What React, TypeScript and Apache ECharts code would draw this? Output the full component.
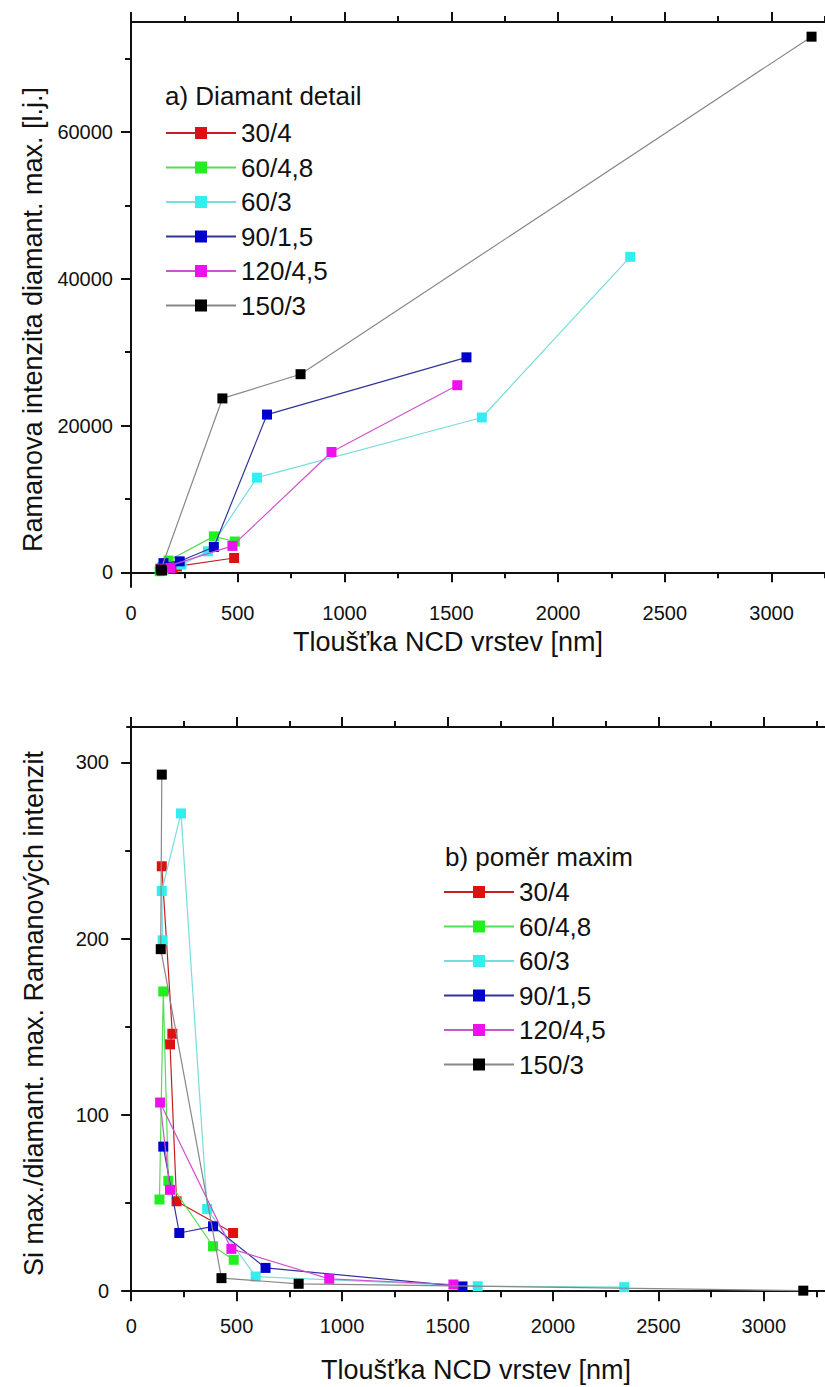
import React, { useEffect, useRef } from "react";
import * as echarts from "echarts";

// ---- Data: chart a) Diamant detail (thickness [nm] vs Raman intensity) ----
const seriesNames = ["30/4", "60/4,8", "60/3", "90/1,5", "120/4,5", "150/3"];

const xA_30_4 = [145, 195, 184, 215, 483];
const yA_30_4 = [300, 600, 500, 800, 1950];
const xA_60_48 = [134, 152, 176, 388, 486];
const yA_60_48 = [150, 350, 1600, 4900, 4200];
const xA_60_3 = [149, 145, 236, 360, 590, 1643, 2338];
const yA_60_3 = [500, 700, 1050, 2860, 12900, 21100, 43000];
const xA_90_15 = [152, 228, 388, 637, 1571];
const yA_90_15 = [1250, 1500, 3450, 21500, 29300];
const xA_120_45 = [184, 137, 475, 939, 1528];
const yA_120_45 = [600, 500, 3600, 16400, 25500];
const xA_150_3 = [145, 140, 428, 794, 3187];
const yA_150_3 = [250, 380, 23700, 27000, 73000];

// ---- Data: chart b) poměr maxim (Si max / diamond max ratio) ----
const xB_30_4 = [145, 195, 184, 215, 483];
const yB_30_4 = [241, 146, 140, 51, 33];
const xB_60_48 = [134, 152, 176, 388, 486];
const yB_60_48 = [52, 170, 62.6, 25.5, 17.8];
const xB_60_3 = [149, 145, 236, 360, 590, 1643, 2338];
const yB_60_3 = [199, 227, 271, 46.6, 8.3, 2.8, 2.3];
const xB_90_15 = [152, 228, 388, 637, 1571];
const yB_90_15 = [82, 33, 36.8, 13.2, 2.7];
const xB_120_45 = [184, 137, 475, 939, 1528];
const yB_120_45 = [57.5, 107, 24, 7, 3.8];
const xB_150_3 = [145, 140, 428, 794, 3187];
const yB_150_3 = [293, 194, 7.4, 4.2, 0.3];

// ---- Tick values ----
const xMajorTicks = [0, 500, 1000, 1500, 2000, 2500, 3000];
const xMinorTicks = [250, 750, 1250, 1750, 2250, 2750, 3250];
const yAMajorTicks = [0, 20000, 40000, 60000];
const yAMinorTicks = [10000, 30000, 50000, 70000];
const yBMajorTicks = [0, 100, 200, 300];
const yBMinorTicks = [50, 150, 250];

const markerColors = ["#dd1111", "#22ee22", "#33eeee", "#0000cc", "#ee11ee", "#000000"];
const lineColors = ["#c42020", "#55dd55", "#77dddd", "#333399", "#cc55cc", "#888888"];

const FONT = "'Liberation Sans', Arial, sans-serif";
const AXIS_COLOR = "#111";

const xsA = [xA_30_4, xA_60_48, xA_60_3, xA_90_15, xA_120_45, xA_150_3];
const ysA = [yA_30_4, yA_60_48, yA_60_3, yA_90_15, yA_120_45, yA_150_3];
const xsB = [xB_30_4, xB_60_48, xB_60_3, xB_90_15, xB_120_45, xB_150_3];
const ysB = [yB_30_4, yB_60_48, yB_60_3, yB_90_15, yB_120_45, yB_150_3];

function zip(xs: number[], ys: number[]) {
  return xs.map((x, i) => [x, ys[i]]);
}

function xAxisPair(gridIndex: number, min: number, max: number, name: string, nameGap: number, namePad: number[]) {
  const base = { type: "value", gridIndex, min, max, splitLine: { show: false } };
  return [
    {
      ...base,
      position: "bottom",
      name,
      nameLocation: "middle",
      nameGap,
      nameTextStyle: { fontSize: 27, color: "#111", fontFamily: FONT, padding: namePad },
      axisLine: { show: true, lineStyle: { color: AXIS_COLOR, width: 2 } },
      axisTick: { show: true, inside: false, length: 10, customValues: xMajorTicks, lineStyle: { color: AXIS_COLOR, width: 2 } },
      axisLabel: { show: true, customValues: xMajorTicks, margin: 16, fontSize: 20, color: "#111", fontFamily: FONT, formatter: (v: number) => String(v) },
    },
    {
      ...base,
      position: "bottom",
      axisLine: { show: false },
      axisTick: { show: true, inside: false, length: 6, customValues: xMinorTicks, lineStyle: { color: AXIS_COLOR, width: 2 } },
      axisLabel: { show: false },
    },
    {
      ...base,
      position: "top",
      axisLine: { show: true, lineStyle: { color: AXIS_COLOR, width: 2 } },
      axisTick: { show: true, inside: false, length: 10, customValues: xMajorTicks, lineStyle: { color: AXIS_COLOR, width: 2 } },
      axisLabel: { show: false },
    },
    {
      ...base,
      position: "top",
      axisLine: { show: false },
      axisTick: { show: true, inside: false, length: 6, customValues: xMinorTicks, lineStyle: { color: AXIS_COLOR, width: 2 } },
      axisLabel: { show: false },
    },
  ];
}

function yAxisPair(gridIndex: number, min: number, max: number, major: number[], minor: number[], name: string, namePad: number[]) {
  const base = { type: "value", gridIndex, min, max, position: "left", splitLine: { show: false } };
  return [
    {
      ...base,
      name,
      nameLocation: "middle",
      nameRotate: 90,
      nameGap: 80,
      nameTextStyle: { fontSize: 27, color: "#111", fontFamily: FONT, padding: namePad },
      axisLine: { show: true, lineStyle: { color: AXIS_COLOR, width: 2 } },
      axisTick: { show: true, inside: false, length: 10, customValues: major, lineStyle: { color: AXIS_COLOR, width: 2 } },
      axisLabel: { show: true, customValues: major, margin: 18, fontSize: 20, color: "#111", fontFamily: FONT, formatter: (v: number) => String(v) },
    },
    {
      ...base,
      axisLine: { show: false },
      axisTick: { show: true, inside: false, length: 6, customValues: minor, lineStyle: { color: AXIS_COLOR, width: 2 } },
      axisLabel: { show: false },
    },
  ];
}

function makeSeries(xs: number[][], ys: number[][], xAxisIndex: number, yAxisIndex: number) {
  return seriesNames.map((name, i) => ({
    type: "line",
    name,
    xAxisIndex,
    yAxisIndex,
    data: zip(xs[i], ys[i]),
    symbol: "rect",
    symbolSize: 10,
    showAllSymbol: true,
    lineStyle: { color: lineColors[i], width: 1.2 },
    itemStyle: { color: markerColors[i] },
    emphasis: { disabled: true },
    z: 2 + i,
  }));
}

function legendCfg(left: number, top: number) {
  return {
    orient: "vertical",
    left,
    top,
    padding: 0,
    itemWidth: 70,
    itemHeight: 15,
    itemGap: 8.5,
    selectedMode: false,
    data: seriesNames,
    textStyle: { fontSize: 26, lineHeight: 26, color: "#111", fontFamily: FONT },
  };
}

export default function App() {
  const ref = useRef<HTMLDivElement>(null);
  useEffect(() => {
    if (!ref.current) return;
    const chart = echarts.init(ref.current, undefined, { renderer: "svg" });
    const option: any = {
      animation: false,
      backgroundColor: "#ffffff",
      textStyle: { fontFamily: FONT },
      grid: [
        { left: 131, top: 22, width: 695, height: 565 },
        { left: 127, top: 727, width: 702, height: 573 },
      ],
      title: [
        { text: "a) Diamant detail", left: 165, top: 83, padding: 0, textStyle: { fontSize: 26, fontWeight: "normal", color: "#111", fontFamily: FONT } },
        { text: "b) poměr maxim", left: 445, top: 844, padding: 0, textStyle: { fontSize: 26, fontWeight: "normal", color: "#111", fontFamily: FONT } },
      ],
      legend: [legendCfg(165, 120), legendCfg(443, 879)],
      xAxis: [
        ...xAxisPair(0, 0, 3250, "Tloušťka NCD vrstev [nm]", 41, [0, 60, 0, 0]),
        ...xAxisPair(1, -20, 3290, "Tloušťka NCD vrstev [nm]", 56, [0, 0, 0, 0]),
      ],
      yAxis: [
        ...yAxisPair(0, -2000, 75000, yAMajorTicks, yAMinorTicks, "Ramanova intenzita diamant. max. [l.j.]", [0, 30, 0, 0]),
        ...yAxisPair(1, -5, 320, yBMajorTicks, yBMinorTicks, "Si max./diamant. max. Ramanových intenzit", [0, 0, 0, 0]),
      ],
      series: [...makeSeries(xsA, ysA, 0, 0), ...makeSeries(xsB, ysB, 4, 2)],
    };
    chart.setOption(option);
    return () => chart.dispose();
  }, []);
  return (
    <div
      ref={ref}
      style={{ position: "absolute", left: 0, top: 0, width: 825, height: 1387, background: "#fff" }}
    />
  );
}
